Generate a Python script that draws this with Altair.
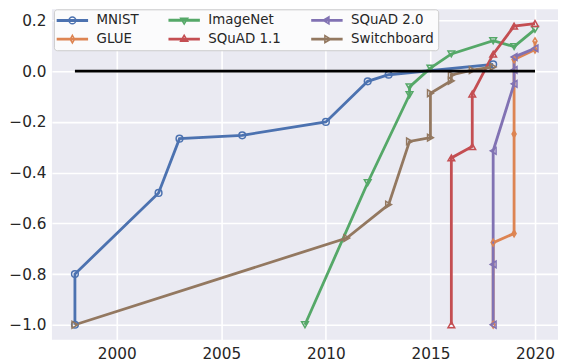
import altair as alt
import pandas as pd

# ---- data ----
mnist_x = [1998, 1998, 2002, 2003, 2006, 2010, 2012, 2013, 2018]
mnist_y = [-1.0, -0.8, -0.48, -0.266, -0.253, -0.2, -0.04, -0.014, 0.027]

glue_x = [2018, 2018, 2019, 2019, 2019, 2020, 2020]
glue_y = [-1.0, -0.676, -0.64, -0.248, 0.046, 0.085, 0.118]

imagenet_x = [2009, 2012, 2014, 2014, 2015, 2016, 2018, 2019, 2020]
imagenet_y = [-1.0, -0.44, -0.093, -0.062, 0.012, 0.068, 0.12, 0.097, 0.165]

squad11_x = [2016, 2016, 2017, 2017, 2018, 2019, 2020]
squad11_y = [-1.0, -0.342, -0.297, -0.09, 0.067, 0.178, 0.188]

squad20_x = [2018, 2018, 2018, 2019, 2019, 2019, 2020]
squad20_y = [-1.0, -0.762, -0.314, -0.05, 0.005, 0.056, 0.09]

switchboard_x = [1998, 2011, 2013, 2014, 2015, 2015, 2016, 2016, 2017, 2018]
switchboard_y = [-1.0, -0.658, -0.526, -0.277, -0.262, -0.087, -0.038, -0.015, 0.004, 0.017]

zero_x = [1998, 2020]
zero_y = [0.0, 0.0]

series_names = ["MNIST", "GLUE", "ImageNet", "SQuAD 1.1", "SQuAD 2.0", "Switchboard"]
x_ticks = [2000, 2005, 2010, 2015, 2020]
y_ticks = [-1.0, -0.8, -0.6, -0.4, -0.2, 0.0, 0.2]

colors = ["#4C72B0", "#DD8452", "#55A868", "#C44E52", "#8172B3", "#937860"]
marker_shapes = [
    "circle",
    "M0,-1L0.6,0L0,1L-0.6,0Z",
    "triangle-down",
    "triangle-up",
    "triangle-left",
    "triangle-right",
]
# legend symbols: a short line segment with the hollow marker on it (unit coords)
seg = "M-4.42,-0.2H4.42V0.2H-4.42Z "
legend_marks = [
    "M1,0A1,1 0 1,1 -1,0A1,1 0 1,1 1,0Z",
    "M0,-1.15L0.65,0L0,1.15L-0.65,0Z",
    "M-1.05,-0.6L1.05,-0.6L0,1.15Z",
    "M-1.05,0.6L1.05,0.6L0,-1.15Z",
    "M0.6,-1.05L0.6,1.05L-1.15,0Z",
    "M-0.6,-1.05L-0.6,1.05L1.15,0Z",
]
legend_shapes = [seg + m for m in legend_marks]

xs = [mnist_x, glue_x, imagenet_x, squad11_x, squad20_x, switchboard_x]
ys = [mnist_y, glue_y, imagenet_y, squad11_y, squad20_y, switchboard_y]
rows = []
for name, sx, sy in zip(series_names, xs, ys):
    for i, (a, b) in enumerate(zip(sx, sy)):
        rows.append({"series": name, "year": a, "value": b, "idx": i})
df = pd.DataFrame(rows)
zero_df = pd.DataFrame({"year": zero_x, "value": zero_y, "idx": [0, 1]})

FONT = "DejaVu Sans"
TXT = "#262626"

x_scale = alt.Scale(domain=[1996.9, 2021.1], nice=False, zero=False)
y_scale = alt.Scale(domain=[-1.059, 0.244], nice=False, zero=False)

x_axis = alt.Axis(values=x_ticks, format="d", grid=True, gridColor="white", gridWidth=1.6,
                  ticks=False, domain=False, labelFontSize=15.3, labelColor=TXT, labelFont=FONT,
                  labelPadding=7, title=None)
y_axis = alt.Axis(values=y_ticks, format=".1f", grid=True, gridColor="white", gridWidth=1.6,
                  ticks=False, domain=False, labelFontSize=15.3, labelColor=TXT, labelFont=FONT,
                  labelPadding=6, title=None)

X = alt.X("year:Q", scale=x_scale, axis=x_axis)
Y = alt.Y("value:Q", scale=y_scale, axis=y_axis)

legend = alt.Legend(
    title=None, orient="none", legendX=2, legendY=0, columns=3,
    labelFont=FONT, labelFontSize=13.4, labelColor=TXT, labelOffset=17.5,
    columnPadding=27, rowPadding=4.2, padding=4, symbolOffset=7.8,
    symbolSize=46, symbolStrokeWidth=1.5, symbolOpacity=1,
    fillColor="#FBFBFC", strokeColor="#CCCCCC", cornerRadius=3, zindex=1,
)

lines = alt.Chart(df).mark_line(strokeWidth=2.8).encode(
    x=X, y=Y,
    color=alt.Color("series:N", scale=alt.Scale(domain=series_names, range=colors), legend=None),
    order="idx:Q",
)

points = alt.Chart(df).mark_point(filled=False, strokeWidth=1.5, size=45, opacity=1).encode(
    x=X, y=Y,
    color=alt.Color("series:N", scale=alt.Scale(domain=series_names, range=colors), legend=None),
    shape=alt.Shape("series:N", scale=alt.Scale(domain=series_names, range=marker_shapes),
                    legend=None),
)

# invisible layer that only carries the legend (line + marker symbols)
legend_layer = alt.Chart(df).mark_point(filled=False, opacity=0, size=1).encode(
    x=X, y=Y,
    color=alt.Color("series:N", scale=alt.Scale(domain=series_names, range=colors), legend=legend),
    shape=alt.Shape("series:N", scale=alt.Scale(domain=series_names, range=legend_shapes),
                    legend=legend),
)

zero_line = alt.Chart(zero_df).mark_line(color="black", strokeWidth=2.8).encode(
    x=X, y=Y, order="idx:Q",
)

chart = alt.layer(lines, points, zero_line, legend_layer).resolve_scale(
    color="independent", shape="independent"
).resolve_legend(
    color="independent", shape="independent"
).properties(
    width=507, height=331, padding=0, background="white"
).configure_view(
    fill="#EAEAF2", stroke=None
)

chart.save("out.html", embed_options={"renderer": "svg", "actions": False})
